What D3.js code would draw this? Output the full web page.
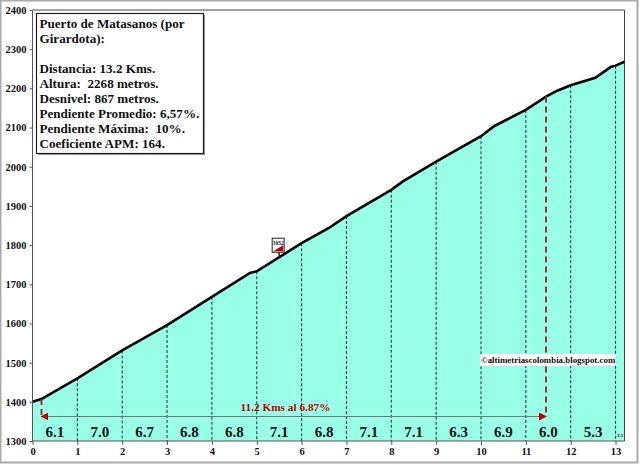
<!DOCTYPE html>
<html>
<head>
<meta charset="utf-8">
<script src="https://cdn.jsdelivr.net/npm/d3@7"></script>
<style>
html, body { margin: 0; padding: 0; background: #fff; }
svg { display: block; }
text { font-family: "Liberation Serif", serif; font-weight: bold; fill: #111; }
</style>
</head>
<body>
<script>
var width = 640, height = 465;

// profile
var kms =  [0, 0.2, 1, 2, 3, 4, 4.85, 5, 6, 6.6, 7, 8, 8.25, 9, 10, 10.3, 11, 11.45, 11.7, 12, 12.55, 12.9, 13, 13.2];
var alts = [1400, 1407, 1460, 1531, 1596, 1668, 1729, 1733, 1805, 1843, 1874, 1941, 1962, 2013, 2078, 2104, 2145, 2179, 2194, 2208, 2227, 2255, 2258, 2268];
var xTicks = [0, 1, 2, 3, 4, 5, 6, 7, 8, 9, 10, 11, 12, 13];
var yTicks = [1300, 1400, 1500, 1600, 1700, 1800, 1900, 2000, 2100, 2200, 2300, 2400];
var grades = ["6.1", "7.0", "6.7", "6.8", "6.8", "7.1", "6.8", "7.1", "7.1", "6.3", "6.9", "6.0", "5.3"];
var lastGrade = "3.5";
var boxLines = ["Puerto de Matasanos (por", "Girardota):", "", "Distancia: 13.2 Kms.", "Altura:  2268 metros.", "Desnivel: 867 metros.", "Pendiente Promedio: 6,57%.", "Pendiente Máxima:  10%.", "Coeficiente APM: 164."];
var climbStart = 0.2, climbEnd = 11.45;

var svg = d3.select("body").append("svg").attr("width", width).attr("height", height);

// outer frame
svg.append("rect").attr("x", 0.5).attr("y", 0.5).attr("width", 637).attr("height", 462)
    .attr("fill", "#fff").attr("stroke", "#aaa").attr("stroke-width", 2);

var x = d3.scaleLinear().domain([0, 13.2]).range([32.5, 624.5]);
var y = d3.scaleLinear().domain([1300, 2400]).range([441, 10]);

function altAt(k) { return d3.scaleLinear().domain(kms).range(alts)(k); }

var area = d3.area().x(function(d, i) { return x(kms[i]); }).y0(y(1300)).y1(function(d) { return y(d); });
var line = d3.line().x(function(d, i) { return x(kms[i]); }).y(function(d) { return y(d); });

svg.append("path").attr("d", area(alts)).attr("fill", "#99ffe6");

// plot border, top and right
svg.append("path").attr("d", "M" + x(0) + "," + y(2400) + "H" + x(13.2) + "V" + y(1300))
    .attr("fill", "none").attr("stroke", "#444").attr("stroke-width", 1);

// km drop lines
svg.selectAll(".drop").data(xTicks.slice(1)).enter().append("line")
    .attr("class", "drop")
    .attr("x1", function(d) { return x(d); }).attr("x2", function(d) { return x(d); })
    .attr("y1", function(d) { return y(altAt(d)); }).attr("y2", y(1300))
    .attr("stroke", "#1a4a44").attr("stroke-width", 1.1).attr("stroke-dasharray", "3,2");

svg.append("path").attr("d", line(alts)).attr("fill", "none").attr("stroke", "#000").attr("stroke-width", 2.6);

// axes
var xAxis = d3.axisBottom(x).tickValues(xTicks).tickSize(4).tickFormat(d3.format("d"));
var yAxis = d3.axisLeft(y).tickValues(yTicks).tickSize(3).tickFormat(d3.format("d"));
var gx = svg.append("g").attr("transform", "translate(0," + y(1300) + ")").call(xAxis);
var gy = svg.append("g").attr("transform", "translate(" + x(0) + ",0)").call(yAxis);
[gx, gy].forEach(function(g) {
    g.selectAll("path,line").attr("stroke", "#555");
    g.selectAll("text").style("font-size", "10.5px").style("fill", "#111").style("font-family", '"Liberation Serif", serif').style("font-weight", "bold");
});
gx.select("path").attr("d", "M" + x(0) + ",0H" + x(13.2));
gy.select("path").attr("d", "M0," + y(2400) + "V" + y(1300));
gy.selectAll("text").attr("x", -6);
gx.selectAll("text").attr("y", 7);

// grades per km
svg.selectAll(".grade").data(grades).enter().append("text")
    .attr("class", "grade")
    .attr("x", function(d, i) { return x(i + 0.5) ; })
    .attr("y", 437)
    .attr("text-anchor", "middle")
    .style("font-size", "15px")
    .text(function(d) { return d; });
svg.append("text").attr("x", x(13.1)).attr("y", 437).attr("text-anchor", "middle")
    .style("font-size", "5px").text(lastGrade);

// climb marker
var red = "#c00000";
svg.append("defs").append("marker").attr("id", "arr").attr("viewBox", "0 0 8 8").attr("refX", 7).attr("refY", 4)
    .attr("markerWidth", 8).attr("markerHeight", 8).attr("markerUnits", "userSpaceOnUse").attr("orient", "auto-start-reverse")
    .append("path").attr("d", "M0,0L8,4L0,8Z").attr("fill", red);
[climbStart, climbEnd].forEach(function(k) {
    svg.append("line").attr("x1", x(k)).attr("x2", x(k)).attr("y1", y(altAt(k))).attr("y2", 416.5)
        .attr("stroke", "#a02828").attr("stroke-width", 1.9).attr("stroke-dasharray", "6,4");
});
svg.append("line").attr("x1", x(climbStart)).attr("x2", x(climbEnd)).attr("y1", 416.5).attr("y2", 416.5)
    .attr("stroke", "#777").attr("stroke-width", 1.2)
    .attr("marker-start", "url(#arr)").attr("marker-end", "url(#arr)");
svg.append("text").attr("x", 285.5).attr("y", 411).attr("text-anchor", "middle")
    .style("font-size", "11.3px").style("fill", red).text("11.2 Kms al 6.87%");

// small km flag
var flagX = x(5.5), flagY = y(altAt(5.5));
svg.append("line").attr("x1", flagX).attr("x2", flagX).attr("y1", flagY).attr("y2", flagY - 6).attr("stroke", "#222").attr("stroke-width", 1.5);
svg.append("rect").attr("x", flagX - 7).attr("y", flagY - 19).attr("width", 12).attr("height", 14)
    .attr("fill", "#fff").attr("stroke", "#222").attr("stroke-width", 1);
svg.append("path").attr("d", "M" + (flagX - 6) + "," + (flagY - 6) + "L" + (flagX + 4) + "," + (flagY - 12) + "V" + (flagY - 6) + "Z").attr("fill", red);
svg.append("text").attr("x", flagX - 1).attr("y", flagY - 12.5).attr("text-anchor", "middle").style("font-size", "5.5px").text("1052");

// copyright label
svg.append("rect").attr("x", 480).attr("y", 354).attr("width", 136).attr("height", 12).attr("fill", "#fff");
svg.append("text").attr("x", 481).attr("y", 363).style("font-size", "8.9px").text("©altimetriascolombia.blogspot.com");

// info box
svg.append("rect").attr("x", 38).attr("y", 15).attr("width", 167).attr("height", 140).attr("fill", "#999");
svg.append("rect").attr("x", 36.5).attr("y", 13.5).attr("width", 167).attr("height", 140)
    .attr("fill", "#fff").attr("stroke", "#222").attr("stroke-width", 1.2);
svg.selectAll(".info").data(boxLines).enter().append("text")
    .attr("class", "info")
    .attr("x", 39.5)
    .attr("y", function(d, i) { return 28 + i * 15; })
    .style("font-size", "13.1px")
    .attr("xml:space", "preserve")
    .style("white-space", "pre")
    .text(function(d) { return d; });
</script>
</body>
</html>
